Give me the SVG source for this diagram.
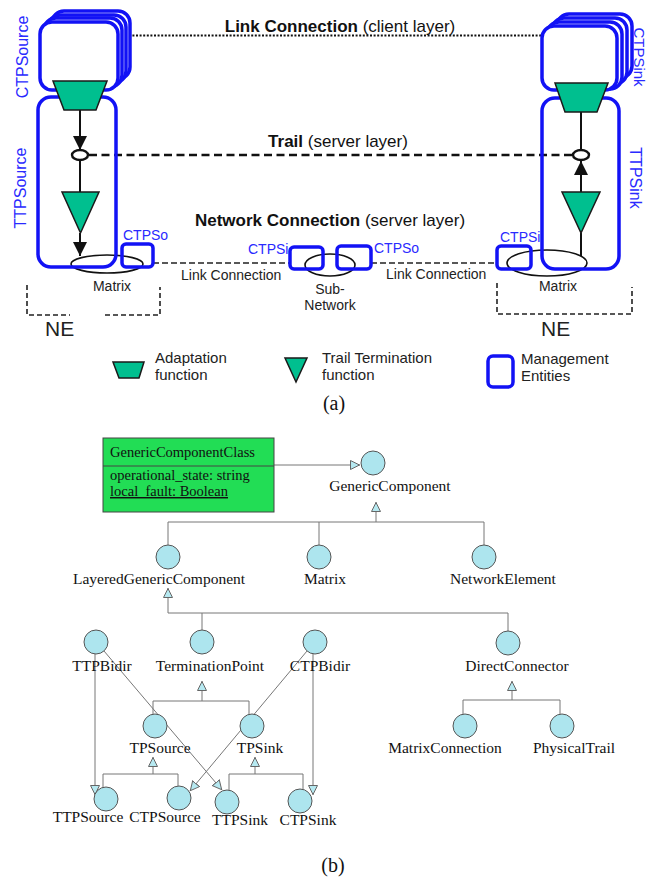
<svg xmlns="http://www.w3.org/2000/svg" width="648" height="880" viewBox="0 0 648 880">
<style>
.bx{fill:none;stroke:#1212f5;stroke-width:3.5}
.bxw{fill:#fff;stroke:#1212f5;stroke-width:3.5}
.tf{fill:#00bf8f;stroke:#1a1a1a;stroke-width:1.5}
.ell{fill:none;stroke:#111;stroke-width:1.6}
.sans{font-family:"Liberation Sans",Arial,sans-serif}
.blu{font-family:"Liberation Sans",Arial,sans-serif;fill:#2a2aff}
.hd{font-family:"Liberation Sans",Arial,sans-serif;font-size:17px;fill:#111}
.sm{font-family:"Liberation Sans",Arial,sans-serif;font-size:14px;fill:#222}
.lg{font-family:"Liberation Sans",Arial,sans-serif;font-size:15px;fill:#222}
.ser{font-family:"Liberation Serif","Times New Roman",serif;fill:#111}
.cl{fill:#ade5ee;stroke:#555;stroke-width:1}
.ul{font-family:"Liberation Serif","Times New Roman",serif;font-size:15.5px;fill:#111;text-anchor:middle}
.con{fill:none;stroke:#777;stroke-width:1}
.blk{fill:none;stroke:#111;stroke-width:2}
</style>
<defs>
<marker id="arr" markerUnits="userSpaceOnUse" markerWidth="14" markerHeight="14" viewBox="0 0 14 14" refX="14" refY="7" orient="auto">
<path d="M0,0 L14,7 L0,14 z" fill="#111"/>
</marker>
<marker id="gen" markerUnits="userSpaceOnUse" markerWidth="10" markerHeight="10" viewBox="0 0 10 10" refX="10" refY="5" orient="auto">
<path d="M0.5,0.5 L9.5,5 L0.5,9.5 z" fill="#b6e9f1" stroke="#666" stroke-width="1"/>
</marker>
</defs>
<rect width="648" height="880" fill="#fff"/>

<g id="connectors">
  <path d="M118,35.5 H542" fill="none" stroke="#111" stroke-width="2.2" stroke-dasharray="2 1.6"/>
  <path d="M89,155 H573" fill="none" stroke="#111" stroke-width="2.6" stroke-dasharray="8 4.5"/>
  <path d="M153,263 H290 M371,263 H497" fill="none" stroke="#222" stroke-width="1.7" stroke-dasharray="6 3"/>
  <path class="blk" d="M80,110 V150" marker-end="url(#arr)"/>
  <path class="blk" d="M80,160 V192"/>
  <path class="blk" d="M80,233 V256" marker-end="url(#arr)"/>
  <path class="blk" d="M581,112 V150"/>
  <path class="blk" d="M581,192 V161" marker-end="url(#arr)"/>
  <path class="blk" d="M581,233 V256"/>

  <path class="con" d="M274,465 H360" marker-end="url(#gen)"/>
  <path class="con" d="M376,522 V502" marker-end="url(#gen)"/>
  <path class="con" d="M168,522 H484 M168,522 V545 M319,522 V545 M484,522 V545"/>
  <path class="con" d="M168,613 V588" marker-end="url(#gen)"/>
  <path class="con" d="M168,613 H508 M202,613 V630 M508,613 V631"/>
  <path class="con" d="M202,701 V681" marker-end="url(#gen)"/>
  <path class="con" d="M153,701 H249 M153,701 V714 M249,701 V715"/>
  <path class="con" d="M512,700 V681" marker-end="url(#gen)"/>
  <path class="con" d="M463,700 H560 M463,700 V715 M560,700 V715"/>
  <path class="con" d="M153,774 V757" marker-end="url(#gen)"/>
  <path class="con" d="M103,774 H178 M103,774 V788 M178,774 V786"/>
  <path class="con" d="M255,774 V757" marker-end="url(#gen)"/>
  <path class="con" d="M229,774 H303 M229,774 V790 M303,774 V789"/>
  <path class="con" d="M95,654 V795" marker-end="url(#gen)"/>
  <path class="con" d="M104,651 L222,790" marker-end="url(#gen)"/>
  <path class="con" d="M307,651 L190,791" marker-end="url(#gen)"/>
  <path class="con" d="M313,654 V795" marker-end="url(#gen)"/>
</g>

<text class="hd" x="340" y="32" text-anchor="middle"><tspan font-weight="bold">Link Connection</tspan> (client layer)</text>
<text class="hd" x="338" y="147" text-anchor="middle"><tspan font-weight="bold">Trail</tspan> (server layer)</text>
<text class="hd" x="330" y="226" text-anchor="middle"><tspan font-weight="bold">Network Connection</tspan> (server layer)</text>
<text class="sm" x="181" y="280">Link Connection</text>
<text class="sm" x="386" y="279">Link Connection</text>

<g id="matrix-left">
  <ellipse class="ell" cx="107" cy="264" rx="36" ry="9"/>
  <text class="sm" x="112" y="291" text-anchor="middle">Matrix</text>
</g>
<g id="subnetwork">
  <ellipse class="ell" cx="330" cy="265" rx="25" ry="11"/>
  <text class="sm" x="330" y="294" text-anchor="middle">Sub-</text>
  <text class="sm" x="330" y="310" text-anchor="middle">Network</text>
</g>
<g id="matrix-right">
  <ellipse class="ell" cx="547" cy="263" rx="40" ry="13"/>
  <text class="sm" x="558" y="291" text-anchor="middle">Matrix</text>
</g>

<g id="ne-left">
  <path d="M27,285 V315 H70 M105,315 H160 V287" fill="none" stroke="#222" stroke-width="1.6" stroke-dasharray="5 3"/>
  <text class="sans" x="45" y="336" font-size="21" fill="#222">NE</text>
</g>
<g id="ne-right">
  <path d="M497,283 V314 H632 V287" fill="none" stroke="#222" stroke-width="1.6" stroke-dasharray="5 3"/>
  <text class="sans" x="541" y="336" font-size="21" fill="#222">NE</text>
</g>

<g id="ctpsource">
  <rect class="bxw" x="52" y="11" width="78" height="68" rx="12"/>
  <rect class="bxw" x="48" y="15" width="78" height="68" rx="12"/>
  <rect class="bxw" x="44" y="18" width="78" height="69" rx="12"/>
  <rect class="bxw" x="40" y="22" width="78" height="68" rx="12"/>
  <text class="blu" font-size="16" transform="translate(28,57) rotate(-90)" text-anchor="middle">CTPSource</text>
</g>
<g id="ttpsource">
  <rect class="bx" x="38" y="97" width="78" height="170" rx="13"/>
  <text class="blu" font-size="16" transform="translate(26,188) rotate(-90)" text-anchor="middle">TTPSource</text>
  <polygon class="tf" points="53,81 107,81 96,110 64,110"/>
  <ellipse cx="80" cy="155" rx="8" ry="5" fill="#fff" stroke="#111" stroke-width="2.4"/>
  <polygon class="tf" points="62,192 99,192 80.5,233"/>
</g>
<g id="ctpsink">
  <rect class="bxw" x="557" y="14" width="75" height="64" rx="12"/>
  <rect class="bxw" x="552" y="18" width="75" height="66" rx="12"/>
  <rect class="bxw" x="547" y="22" width="75" height="67" rx="12"/>
  <rect class="bxw" x="542" y="26" width="75" height="64" rx="12"/>
  <text class="blu" font-size="15" transform="translate(634,57) rotate(90)" text-anchor="middle">CTPSink</text>
</g>
<g id="ttpsink">
  <rect class="bx" x="542" y="98" width="77" height="171" rx="13"/>
  <text class="blu" font-size="16" transform="translate(630,178) rotate(90)" text-anchor="middle">TTPSink</text>
  <polygon class="tf" points="555,83 608,83 597,112 565,112"/>
  <ellipse cx="581" cy="155" rx="8" ry="5" fill="#fff" stroke="#111" stroke-width="2.4"/>
  <polygon class="tf" points="562,192 600,192 581,233"/>
</g>

<g id="ctpso-left">
  <rect class="bx" x="122" y="244" width="31" height="23" rx="4"/>
  <text class="blu" font-size="14" x="123" y="240">CTPSo</text>
</g>
<g id="ctpsi-mid">
  <rect class="bx" x="290" y="247" width="33" height="22" rx="4"/>
  <text class="blu" font-size="14" x="248" y="254">CTPSi</text>
</g>
<g id="ctpso-mid">
  <rect class="bx" x="337" y="246" width="34" height="23" rx="4"/>
  <text class="blu" font-size="14" x="374" y="253">CTPSo</text>
</g>
<g id="ctpsi-right">
  <rect class="bx" x="497" y="246" width="34" height="23" rx="4"/>
  <text class="blu" font-size="14" x="500" y="242">CTPSi</text>
</g>

<g id="legend-adaptation">
  <polygon class="tf" points="113,362 144,362 139,378 119,378"/>
  <text class="lg" x="155" y="363">Adaptation</text>
  <text class="lg" x="155" y="380">function</text>
</g>
<g id="legend-trail">
  <polygon class="tf" points="285,358 307,358 296,382"/>
  <text class="lg" x="322" y="363">Trail Termination</text>
  <text class="lg" x="322" y="380">function</text>
</g>
<g id="legend-mgmt">
  <rect class="bx" x="488" y="356" width="25" height="31" rx="5"/>
  <text class="lg" x="521" y="364">Management</text>
  <text class="lg" x="521" y="381">Entities</text>
</g>
<text class="ser" x="334" y="410" font-size="20" text-anchor="middle">(a)</text>

<g id="GenericComponentClass">
  <rect x="103" y="438" width="171" height="74" fill="#22dd55" stroke="#444" stroke-width="1"/>
  <line x1="103" y1="466" x2="274" y2="466" stroke="#444" stroke-width="1"/>
  <text class="ser" x="110" y="457" font-size="14.5">GenericComponentClass</text>
  <text class="ser" x="110" y="480" font-size="14.5">operational_state: string</text>
  <text class="ser" x="110" y="496" font-size="14.5" text-decoration="underline">local_fault: Boolean</text>
</g>
<g id="GenericComponent"><circle class="cl" cx="373" cy="463" r="12"/><text class="ul" x="390" y="491">GenericComponent</text></g>
<g id="LayeredGenericComponent"><circle class="cl" cx="168" cy="557" r="12"/><text class="ul" x="159" y="584">LayeredGenericComponent</text></g>
<g id="Matrix"><circle class="cl" cx="319" cy="557" r="12"/><text class="ul" x="325" y="584">Matrix</text></g>
<g id="NetworkElement"><circle class="cl" cx="484" cy="557" r="12"/><text class="ul" x="503" y="584">NetworkElement</text></g>
<g id="TTPBidir"><circle class="cl" cx="96" cy="642" r="12"/><text class="ul" x="102" y="671">TTPBidir</text></g>
<g id="TerminationPoint"><circle class="cl" cx="202" cy="642" r="12"/><text class="ul" x="210" y="671">TerminationPoint</text></g>
<g id="CTPBidir"><circle class="cl" cx="315" cy="642" r="12"/><text class="ul" x="320" y="671">CTPBidir</text></g>
<g id="DirectConnector"><circle class="cl" cx="508" cy="643" r="12"/><text class="ul" x="517" y="671">DirectConnector</text></g>
<g id="TPSource"><circle class="cl" cx="155" cy="726" r="12"/><text class="ul" x="160" y="753">TPSource</text></g>
<g id="TPSink"><circle class="cl" cx="252" cy="726" r="12"/><text class="ul" x="260" y="753">TPSink</text></g>
<g id="MatrixConnection"><circle class="cl" cx="465" cy="726" r="12"/><text class="ul" x="445" y="753">MatrixConnection</text></g>
<g id="PhysicalTrail"><circle class="cl" cx="562" cy="726" r="12"/><text class="ul" x="574" y="753">PhysicalTrail</text></g>
<g id="TTPSourceC"><circle class="cl" cx="106" cy="799" r="12"/><text class="ul" x="88" y="822">TTPSource</text></g>
<g id="CTPSourceC"><circle class="cl" cx="179" cy="798" r="12"/><text class="ul" x="165" y="822">CTPSource</text></g>
<g id="TTPSinkC"><circle class="cl" cx="227" cy="802" r="12"/><text class="ul" x="240" y="825">TTPSink</text></g>
<g id="CTPSinkC"><circle class="cl" cx="300" cy="801" r="12"/><text class="ul" x="308" y="825">CTPSink</text></g>
<text class="ser" x="333" y="872" font-size="20" text-anchor="middle">(b)</text>
</svg>
